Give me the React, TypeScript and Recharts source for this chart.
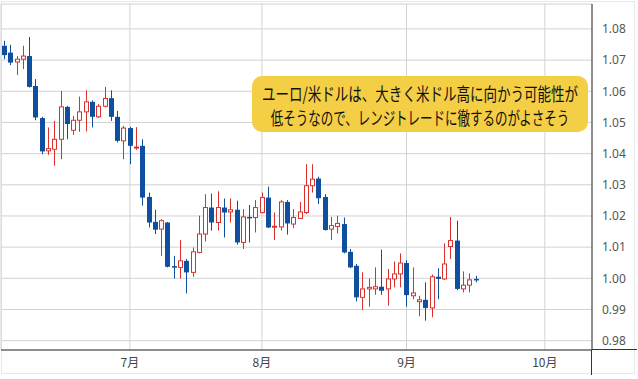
import React, { useLayoutEffect, useRef, useState } from 'react';
import { ComposedChart, Bar, XAxis, YAxis, CartesianGrid } from 'recharts';

// trading days (weekdays), June 3 - Oct 12
const junDays = [3, 6, 7, 8, 9, 10, 13, 14, 15, 16, 17, 20, 21, 22, 23, 24, 27, 28, 29, 30];
const julDays = [1, 4, 5, 6, 7, 8, 11, 12, 13, 14, 15, 18, 19, 20, 21, 22, 25, 26, 27, 28, 29];
const augDays = [1, 2, 3, 4, 5, 8, 9, 10, 11, 12, 15, 16, 17, 18, 19, 22, 23, 24, 25, 26, 29, 30, 31];
const sepDays = [1, 2, 5, 6, 7, 8, 9, 12, 13, 14, 15, 16, 19, 20, 21, 22, 23, 26, 27, 28, 29, 30];
const octDays = [3, 4, 5, 6, 7, 10, 11, 12];

const monthTicks = ['7/1', '8/1', '9/1', '10/3'];
const priceTicks = [0.98, 0.99, 1.0, 1.01, 1.02, 1.03, 1.04, 1.05, 1.06, 1.07, 1.08];

const noteLines = [
  'ユーロ/米ドルは、大きく米ドル高に向かう可能性が',
  '低そうなので、レンジトレードに徹するのがよさそう',
];

const open = [
  1.0746, 1.0724, 1.0694, 1.0703, 1.0713, 1.0617, 1.0514, 1.0409, 1.0414, 1.0446,
  1.0550, 1.0475, 1.0507, 1.0534, 1.0566, 1.0518, 1.0552, 1.0578, 1.0518, 1.0441,
  1.0482, 1.0418, 1.0425, 1.0261, 1.0181, 1.0158, 1.0179, 1.0039, 1.0035, 1.0056,
  1.0019, 1.0083, 1.0142, 1.0227, 1.0179, 1.0227, 1.0213, 1.0220, 1.0115, 1.0197,
  1.0195, 1.0211, 1.0259, 1.0165, 1.0165, 1.0245, 1.0174, 1.0192, 1.0211, 1.0297,
  1.0320, 1.0261, 1.0158, 1.0166, 1.0174, 1.0085, 1.0040, 0.9939, 0.9966, 0.9966,
  0.9973, 0.9966, 0.9998, 1.0014, 1.0049, 0.9944, 0.9925, 0.9931, 0.9905, 1.0005,
  0.9998, 1.0102, 1.0121, 0.9966, 0.9978, 0.9998,
];
const high = [
  1.0762, 1.0749, 1.0713, 1.0746, 1.0774, 1.0639, 1.0518, 1.0484, 1.0505, 1.0601,
  1.0553, 1.0521, 1.0583, 1.0603, 1.0571, 1.0559, 1.0614, 1.0603, 1.0537, 1.0489,
  1.0486, 1.0485, 1.0446, 1.0275, 1.0220, 1.0190, 1.0181, 1.0072, 1.0123, 1.0062,
  1.0099, 1.0201, 1.0270, 1.0272, 1.0279, 1.0256, 1.0256, 1.0249, 1.0222, 1.0235,
  1.0251, 1.0275, 1.0294, 1.0211, 1.0251, 1.0251, 1.0222, 1.0245, 1.0366, 1.0366,
  1.0326, 1.0270, 1.0197, 1.0201, 1.0195, 1.0094, 1.0046, 1.0019, 1.0000, 1.0035,
  1.0092, 1.0030, 1.0054, 1.0080, 1.0058, 1.0035, 0.9944, 0.9987, 1.0012, 1.0032,
  1.0112, 1.0197, 1.0185, 1.0022, 1.0016, 1.0008,
];
const low = [
  1.0703, 1.0684, 1.0652, 1.0671, 1.0612, 1.0507, 1.0398, 1.0396, 1.0361, 1.0382,
  1.0446, 1.0460, 1.0470, 1.0471, 1.0484, 1.0514, 1.0548, 1.0505, 1.0436, 1.0382,
  1.0366, 1.0412, 1.0233, 1.0163, 1.0142, 1.0072, 1.0035, 0.9999, 0.9999, 0.9952,
  1.0005, 1.0080, 1.0118, 1.0153, 1.0153, 1.0131, 1.0179, 1.0108, 1.0094, 1.0115,
  1.0147, 1.0208, 1.0161, 1.0123, 1.0153, 1.0140, 1.0161, 1.0190, 1.0206, 1.0275,
  1.0238, 1.0153, 1.0123, 1.0144, 1.0080, 1.0033, 0.9926, 0.9898, 0.9909, 0.9947,
  0.9947, 0.9912, 0.9971, 0.9971, 0.9909, 0.9933, 0.9878, 0.9864, 0.9875, 0.9933,
  0.9994, 1.0062, 0.9962, 0.9955, 0.9955, 0.9987,
];
const close = [
  1.0716, 1.0692, 1.0703, 1.0713, 1.0614, 1.0516, 1.0407, 1.0416, 1.0446, 1.0550,
  1.0495, 1.0507, 1.0534, 1.0566, 1.0518, 1.0552, 1.0577, 1.0518, 1.0441, 1.0482,
  1.0425, 1.0421, 1.0259, 1.0179, 1.0156, 1.0185, 1.0037, 1.0035, 1.0056, 1.0019,
  1.0085, 1.0142, 1.0227, 1.0179, 1.0227, 1.0211, 1.0220, 1.0115, 1.0197, 1.0195,
  1.0227, 1.0259, 1.0163, 1.0167, 1.0245, 1.0176, 1.0195, 1.0213, 1.0297, 1.0318,
  1.0257, 1.0155, 1.0169, 1.0176, 1.0083, 1.0035, 0.9939, 0.9966, 0.9971, 0.9973,
  0.9960, 0.9998, 1.0014, 1.0049, 0.9946, 0.9953, 0.9931, 0.9905, 1.0005, 0.9998,
  1.0046, 1.0121, 0.9966, 0.9978, 0.9995, 0.9994,
];

const UP = '#d8312c';
const DOWN = '#0f4f9f';

const dates = [
  ...junDays.map((d) => `6/${d}`),
  ...julDays.map((d) => `7/${d}`),
  ...augDays.map((d) => `8/${d}`),
  ...sepDays.map((d) => `9/${d}`),
  ...octDays.map((d) => `10/${d}`),
];

const data = dates.map((date, i) => ({
  date,
  open: open[i],
  high: high[i],
  low: low[i],
  close: close[i],
}));

const Candle = (props: any) => {
  const { x, y, width, height, payload } = props;
  if (!payload || payload.open == null || !height) return null;
  const { open: o, close: c, high: h, low: l } = payload;
  const ppu = height / (h - l);
  const py = (p: number) => y + (h - p) * ppu;
  const cx = Math.floor(x + width / 2) + 0.5;
  const up = c > o;
  const top = py(Math.max(o, c));
  const bot = py(Math.min(o, c));
  if (up) {
    const bh = Math.max(bot - top, 1);
    return (
      <g>
        <line x1={cx} x2={cx} y1={y} y2={top} stroke={UP} strokeWidth={1} />
        <line x1={cx} x2={cx} y1={top + bh} y2={y + height} stroke={UP} strokeWidth={1} />
        <rect x={cx - 2} y={top} width={4} height={bh} fill="#fff" stroke={UP} strokeWidth={1} />
      </g>
    );
  }
  const bh = Math.max(bot - top, 1.5);
  return (
    <g>
      <line x1={cx} x2={cx} y1={y} y2={y + height} stroke={DOWN} strokeWidth={1} />
      <rect x={cx - 2.5} y={top} width={5} height={bh} fill={DOWN} />
    </g>
  );
};

// squeeze a line of text to a given width (the original uses a narrow font)
function FitLine({ text, width, top }: { text: string; width: number; top: number }) {
  const ref = useRef<HTMLSpanElement>(null);
  const [k, setK] = useState(0.78);
  useLayoutEffect(() => {
    if (ref.current && ref.current.offsetWidth) setK(width / ref.current.offsetWidth);
  }, [text, width]);
  return (
    <span
      ref={ref}
      style={{
        position: 'absolute', left: 168, top, whiteSpace: 'nowrap',
        fontSize: 18, lineHeight: '24px', color: '#111', fontFamily: '"Noto Sans CJK JP"',
        transform: `translateX(-50%) scaleX(${k})`, transformOrigin: 'center',
      }}
    >
      {text}
    </span>
  );
}

export default function App() {
  return (
    <div style={{ position: 'relative', width: 638, height: 379, background: '#fff' }}>
      <style>{'body{margin:0}'}</style>
      <div
        style={{
          position: 'absolute', left: 1, top: 1, width: 634, height: 373,
          border: '1px solid #e8e8e8', boxSizing: 'border-box',
        }}
      />
      <ComposedChart
        width={638}
        height={379}
        data={data}
        margin={{ top: 4, right: 0, bottom: 0, left: 1 }}
        style={{ position: 'absolute', left: 0, top: 0 }}
      >
        <CartesianGrid stroke="#d2d2d2" />
        <XAxis
          dataKey="date"
          ticks={monthTicks}
          interval={0}
          height={29}
          tickLine={false}
          axisLine={{ stroke: '#333' }}
          tickFormatter={(v: string) => `${v.split('/')[0]}月`}
          tick={{ fontSize: 12, fill: '#444', fontFamily: 'Noto Sans CJK JP' }}
        />
        <YAxis
          orientation="right"
          width={46}
          domain={[0.977, 1.088]}
          allowDataOverflow
          ticks={priceTicks}
          interval={0}
          tickLine={false}
          tickSize={6}
          tickMargin={4}
          axisLine={{ stroke: '#333' }}
          tickFormatter={(v: number) => v.toFixed(2)}
          tick={{ fontSize: 12, fill: '#555', fontFamily: 'Noto Sans', textAnchor: 'start' }}
        />
        <Bar
          dataKey={(d: any) => (d.open == null ? null : [d.low, d.high])}
          barSize={5}
          isAnimationActive={false}
          shape={(p: any) => <Candle {...p} />}
        />
      </ComposedChart>
      {/* axis line extensions */}
      <div style={{ position: 'absolute', left: 592, top: 349, width: 45, height: 1, background: '#333' }} />
      <div style={{ position: 'absolute', left: 591, top: 350, width: 1, height: 25, background: '#333' }} />
      <div
        style={{
          position: 'absolute', left: 252, top: 76, width: 336, height: 56,
          background: '#f4ce44', borderRadius: 10,
        }}
      >
        <FitLine text={noteLines[0]} width={316} top={5} />
        <FitLine text={noteLines[1]} width={298} top={29} />
      </div>
    </div>
  );
}
